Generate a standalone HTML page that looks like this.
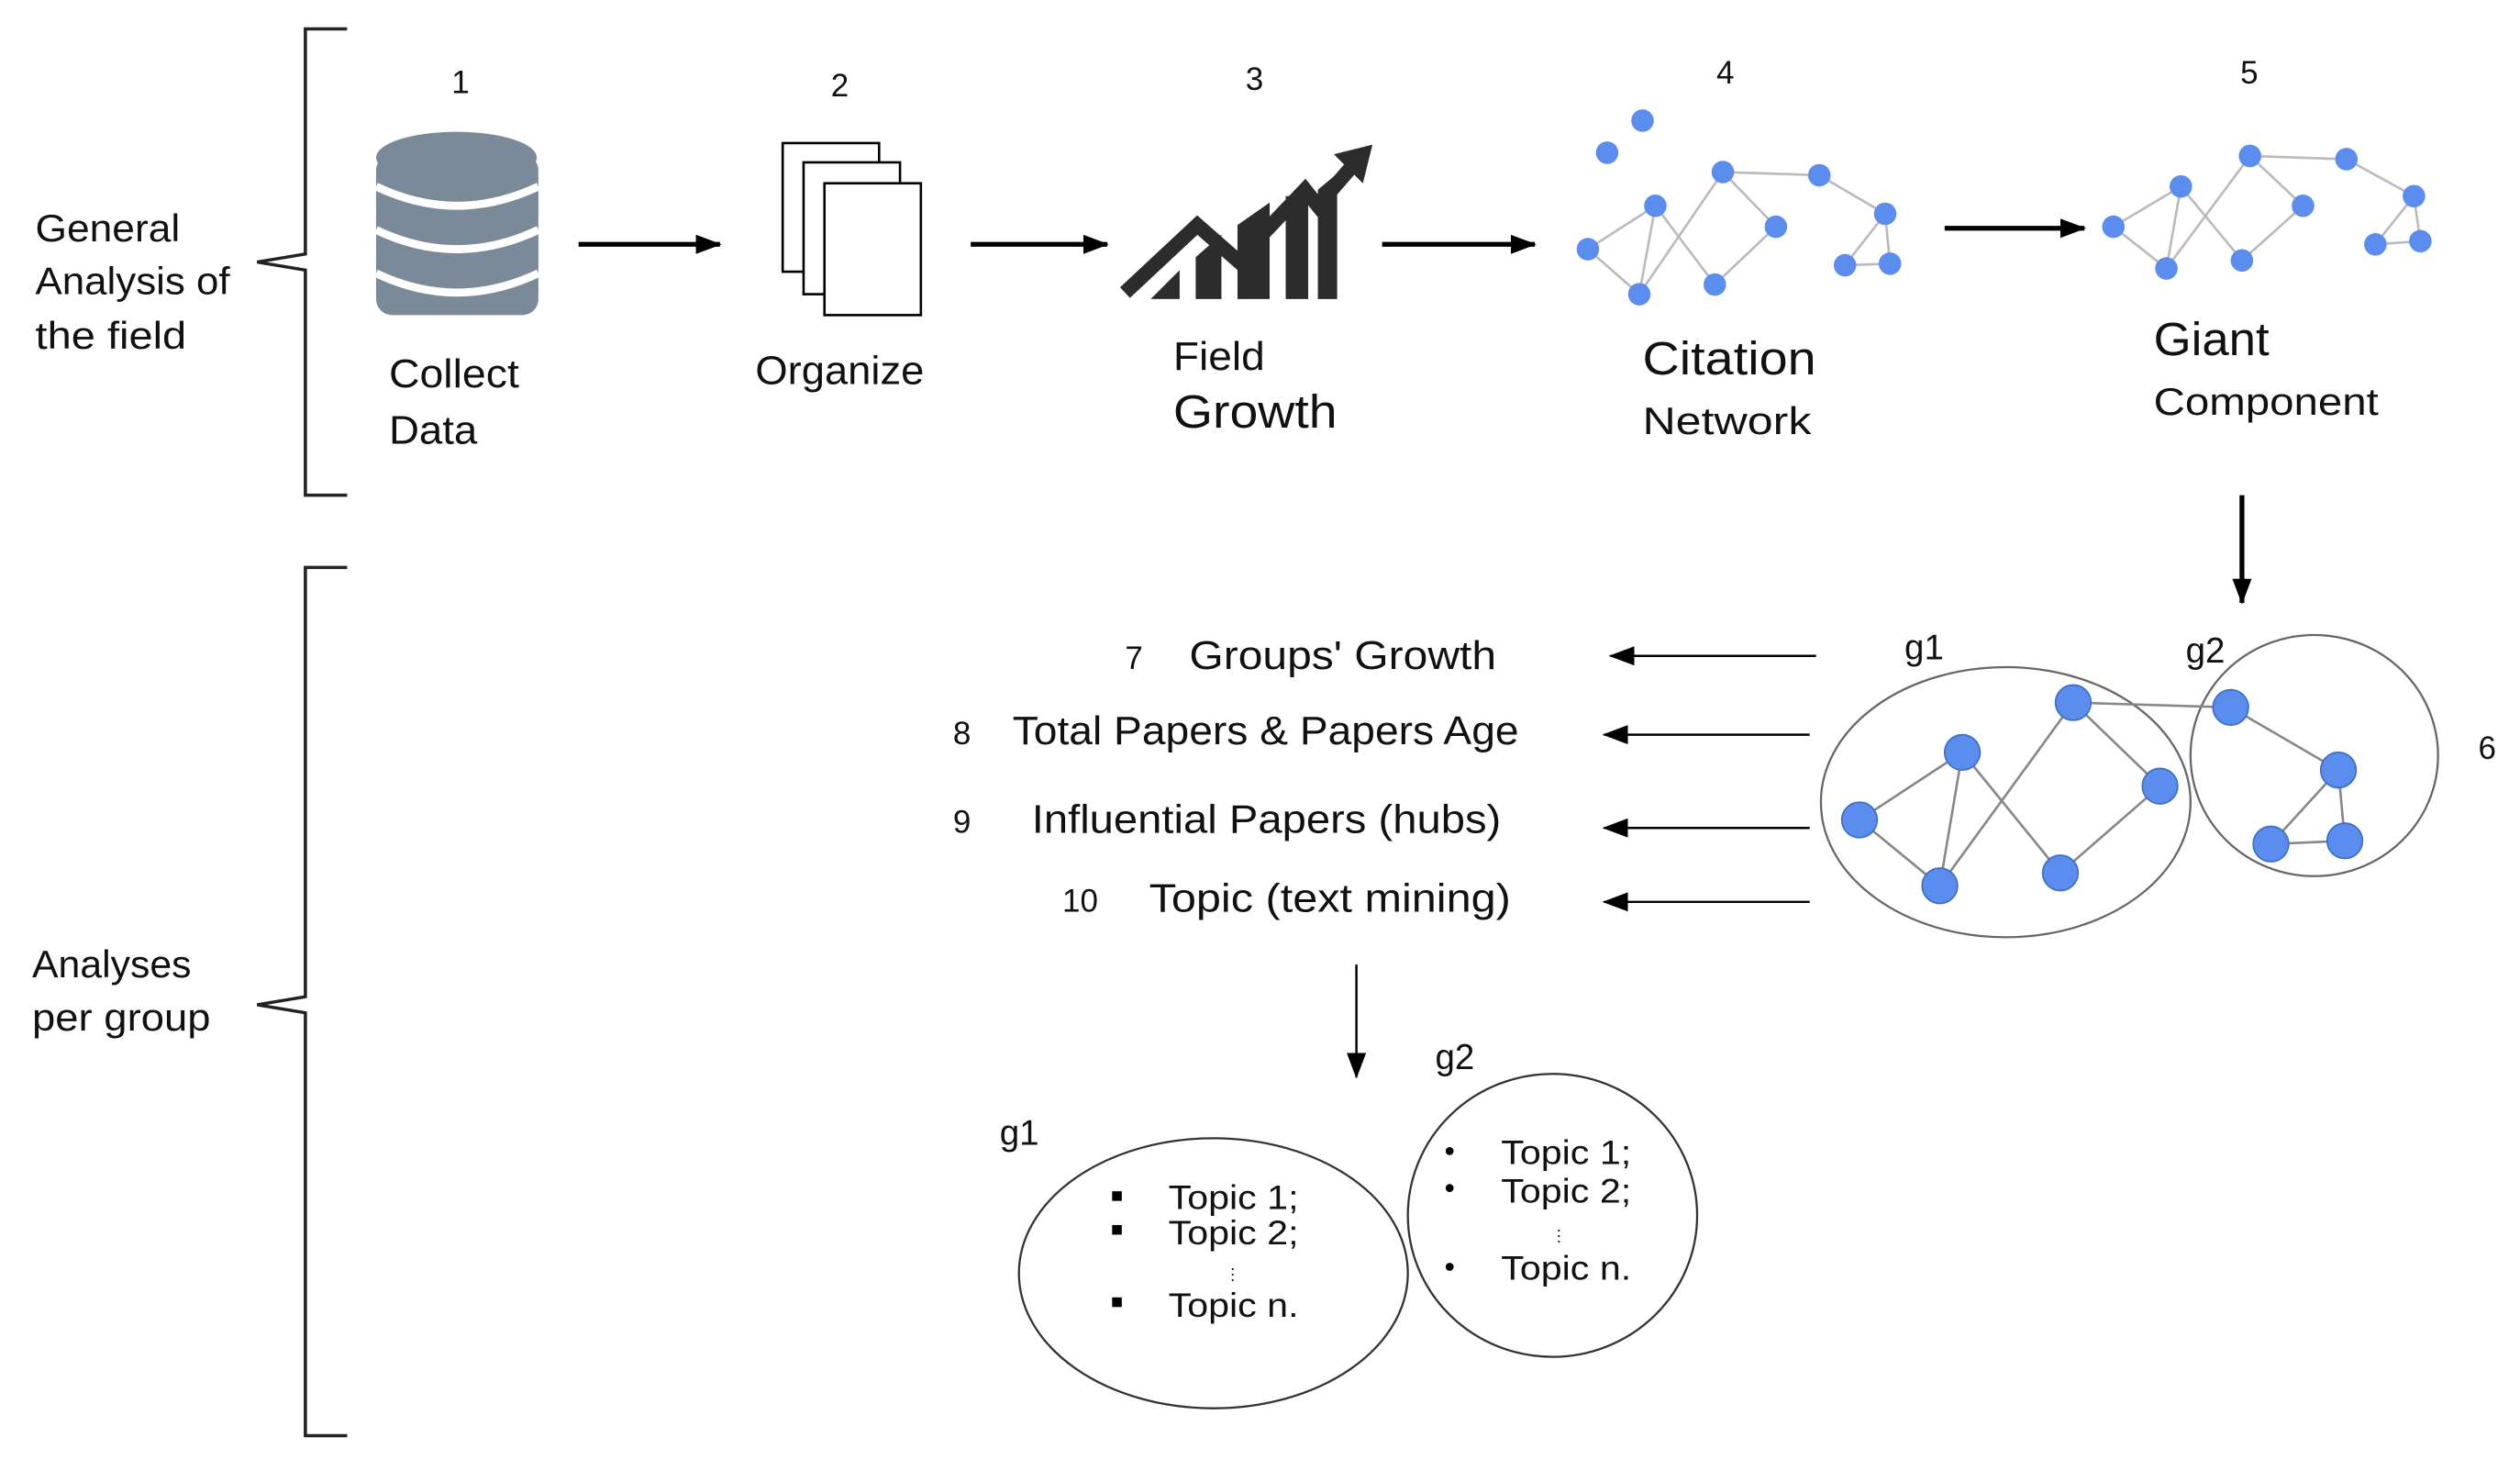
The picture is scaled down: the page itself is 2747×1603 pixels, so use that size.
<!DOCTYPE html>
<html><head><meta charset="utf-8"><style>
html,body{margin:0;padding:0;background:#fff;}
svg{display:block;}
text{font-family:"Liberation Sans",sans-serif;fill:#111;}
</style></head><body>
<svg width="2747" height="1603" viewBox="0 0 1568 915" xmlns="http://www.w3.org/2000/svg">
<defs>
<marker id="ah2" markerWidth="16" markerHeight="12" refX="15" refY="6" orient="auto" markerUnits="userSpaceOnUse"><path d="M0,0 L16,6 L0,12 z" fill="#000"/></marker>
</defs>
<path d="M216,18 L190,18 L190,158 L160,163 L190,168 L190,308 L216,308" fill="none" stroke="#222" stroke-width="2"/>
<path d="M216,353 L190,353 L190,620 L160,625 L190,630 L190,893 L216,893" fill="none" stroke="#222" stroke-width="2"/>
<text x="22" y="150" font-size="24" textLength="90" lengthAdjust="spacingAndGlyphs">General</text>
<text x="22" y="183" font-size="24" textLength="121" lengthAdjust="spacingAndGlyphs">Analysis of</text>
<text x="22" y="217" font-size="24" textLength="94" lengthAdjust="spacingAndGlyphs">the field</text>
<text x="20" y="608" font-size="24" textLength="99" lengthAdjust="spacingAndGlyphs">Analyses</text>
<text x="20" y="641" font-size="24" textLength="111" lengthAdjust="spacingAndGlyphs">per group</text>
<g font-size="20">
<text x="281" y="58">1</text><text x="517" y="60">2</text><text x="775" y="56">3</text><text x="1068" y="52">4</text><text x="1394" y="52">5</text><text x="1542" y="472">6</text>
</g>
<g fill="#7b8a98">
<rect x="234" y="96" width="101" height="100" rx="10"/>
<ellipse cx="284" cy="98" rx="50" ry="16"/>
</g>
<g fill="none" stroke="#fff" stroke-width="5">
<path d="M234,116 Q284,140 335,116"/><path d="M234,143 Q284,167 335,143"/><path d="M234,170 Q284,194 335,170"/>
</g>
<text x="242" y="241" font-size="25" textLength="81" lengthAdjust="spacingAndGlyphs">Collect</text>
<text x="242" y="276" font-size="25" textLength="55" lengthAdjust="spacingAndGlyphs">Data</text>
<g fill="#fff" stroke="#000" stroke-width="1.5">
<rect x="487" y="89" width="60" height="80"/><rect x="500" y="101" width="60" height="82"/><rect x="513" y="114" width="60" height="82"/>
</g>
<text x="470" y="239" font-size="25" textLength="105" lengthAdjust="spacingAndGlyphs">Organize</text>
<g fill="#2c2c2c">
<path d="M716,186 L734,168 L734,186 z"/>
<path d="M744,186 L744,160 L760,146 L760,186 z"/>
<path d="M770,186 L770,140 L790,126 L790,186 z"/>
<path d="M800,186 L800,122 L814,122 L814,186 z"/>
<path d="M820,186 L820,118 L832,108 L832,186 z"/>
</g>
<path d="M700,182 L745,140 L770,162 L812,118 L820,128 L846,98" fill="none" stroke="#2c2c2c" stroke-width="9"/>
<path d="M830,96 L854,90 L848,114 z" fill="#2c2c2c"/>
<text x="730" y="230" font-size="25" textLength="57" lengthAdjust="spacingAndGlyphs">Field</text>
<text x="730" y="266" font-size="29" textLength="102" lengthAdjust="spacingAndGlyphs">Growth</text>
<g stroke="#000" stroke-width="3">
<line x1="360" y1="152" x2="448" y2="152" marker-end="url(#ah2)"/>
<line x1="604" y1="152" x2="689" y2="152" marker-end="url(#ah2)"/>
<line x1="860" y1="152" x2="955" y2="152" marker-end="url(#ah2)"/>
<line x1="1210" y1="142" x2="1297" y2="142" marker-end="url(#ah2)"/>
<line x1="1395" y1="308" x2="1395" y2="375" marker-end="url(#ah2)"/>
</g>
<g stroke="#bbb" stroke-width="1.5">
<line x1="988" y1="155" x2="1030" y2="128"/><line x1="988" y1="155" x2="1020" y2="183"/><line x1="1030" y1="128" x2="1020" y2="183"/>
<line x1="1030" y1="128" x2="1067" y2="177"/><line x1="1072" y1="107" x2="1020" y2="183"/><line x1="1072" y1="107" x2="1105" y2="141"/>
<line x1="1105" y1="141" x2="1067" y2="177"/><line x1="1072" y1="107" x2="1132" y2="109"/><line x1="1132" y1="109" x2="1173" y2="133"/>
<line x1="1173" y1="133" x2="1148" y2="165"/><line x1="1148" y1="165" x2="1176" y2="164"/><line x1="1173" y1="133" x2="1176" y2="164"/>
</g>
<g fill="#5b8def">
<circle cx="1000" cy="95" r="7"/><circle cx="1022" cy="75" r="7"/><circle cx="1030" cy="128" r="7"/><circle cx="1072" cy="107" r="7"/><circle cx="1132" cy="109" r="7"/><circle cx="1105" cy="141" r="7"/><circle cx="1173" cy="133" r="7"/><circle cx="988" cy="155" r="7"/><circle cx="1020" cy="183" r="7"/><circle cx="1067" cy="177" r="7"/><circle cx="1148" cy="165" r="7"/><circle cx="1176" cy="164" r="7"/>
</g>
<text x="1022" y="233" font-size="29" textLength="108" lengthAdjust="spacingAndGlyphs">Citation</text>
<text x="1022" y="270" font-size="24" textLength="105" lengthAdjust="spacingAndGlyphs">Network</text>
<g stroke="#bbb" stroke-width="1.5">
<line x1="1315" y1="141" x2="1357" y2="116"/><line x1="1315" y1="141" x2="1348" y2="167"/><line x1="1357" y1="116" x2="1348" y2="167"/>
<line x1="1357" y1="116" x2="1395" y2="162"/><line x1="1400" y1="97" x2="1348" y2="167"/><line x1="1400" y1="97" x2="1433" y2="128"/>
<line x1="1433" y1="128" x2="1395" y2="162"/><line x1="1400" y1="97" x2="1460" y2="99"/><line x1="1460" y1="99" x2="1502" y2="122"/>
<line x1="1502" y1="122" x2="1478" y2="152"/><line x1="1478" y1="152" x2="1506" y2="150"/><line x1="1502" y1="122" x2="1506" y2="150"/>
</g>
<g fill="#5b8def">
<circle cx="1315" cy="141" r="7"/><circle cx="1357" cy="116" r="7"/><circle cx="1348" cy="167" r="7"/><circle cx="1400" cy="97" r="7"/><circle cx="1460" cy="99" r="7"/><circle cx="1433" cy="128" r="7"/><circle cx="1395" cy="162" r="7"/><circle cx="1502" cy="122" r="7"/><circle cx="1478" cy="152" r="7"/><circle cx="1506" cy="150" r="7"/>
</g>
<text x="1340" y="221" font-size="29" textLength="72" lengthAdjust="spacingAndGlyphs">Giant</text>
<text x="1340" y="258" font-size="24" textLength="140" lengthAdjust="spacingAndGlyphs">Component</text>
<g font-size="25">
<text x="700" y="416" font-size="20">7</text><text x="740" y="416" textLength="191" lengthAdjust="spacingAndGlyphs">Groups' Growth</text>
<text x="593" y="463" font-size="20">8</text><text x="630" y="463" textLength="315" lengthAdjust="spacingAndGlyphs">Total Papers &amp; Papers Age</text>
<text x="593" y="518" font-size="20">9</text><text x="642" y="518" textLength="292" lengthAdjust="spacingAndGlyphs">Influential Papers (hubs)</text>
<text x="661" y="567" font-size="20">10</text><text x="715" y="567" textLength="225" lengthAdjust="spacingAndGlyphs">Topic (text mining)</text>
</g>
<g stroke="#000" stroke-width="1.4">
<line x1="1130" y1="408" x2="1002" y2="408" marker-end="url(#ah2)"/>
<line x1="1126" y1="457" x2="998" y2="457" marker-end="url(#ah2)"/>
<line x1="1126" y1="515" x2="998" y2="515" marker-end="url(#ah2)"/>
<line x1="1126" y1="561" x2="998" y2="561" marker-end="url(#ah2)"/>
<line x1="844" y1="600" x2="844" y2="670" marker-end="url(#ah2)"/>
</g>
<ellipse cx="1248" cy="499" rx="115" ry="84" fill="none" stroke="#666" stroke-width="1.3"/>
<ellipse cx="1440" cy="470" rx="77" ry="75" fill="none" stroke="#666" stroke-width="1.3"/>
<text x="1185" y="410" font-size="22">g1</text><text x="1360" y="412" font-size="22">g2</text>
<g stroke="#888" stroke-width="1.5">
<line x1="1157" y1="510" x2="1221" y2="468"/><line x1="1157" y1="510" x2="1207" y2="551"/><line x1="1221" y1="468" x2="1207" y2="551"/>
<line x1="1221" y1="468" x2="1282" y2="543"/><line x1="1290" y1="437" x2="1207" y2="551"/><line x1="1290" y1="437" x2="1344" y2="489"/>
<line x1="1344" y1="489" x2="1282" y2="543"/><line x1="1290" y1="437" x2="1388" y2="440"/><line x1="1388" y1="440" x2="1455" y2="479"/>
<line x1="1455" y1="479" x2="1413" y2="525"/><line x1="1413" y1="525" x2="1459" y2="523"/><line x1="1455" y1="479" x2="1459" y2="523"/>
</g>
<g fill="#5b8def" stroke="#3f6fc4" stroke-width="1">
<circle cx="1157" cy="510" r="11"/><circle cx="1221" cy="468" r="11"/><circle cx="1290" cy="437" r="11"/><circle cx="1344" cy="489" r="11"/><circle cx="1207" cy="551" r="11"/><circle cx="1282" cy="543" r="11"/><circle cx="1388" cy="440" r="11"/><circle cx="1455" cy="479" r="11"/><circle cx="1413" cy="525" r="11"/><circle cx="1459" cy="523" r="11"/>
</g>
<ellipse cx="755" cy="792" rx="121" ry="84" fill="none" stroke="#333" stroke-width="1.3"/>
<ellipse cx="966" cy="756" rx="90" ry="88" fill="none" stroke="#333" stroke-width="1.3"/>
<text x="622" y="712" font-size="22">g1</text><text x="893" y="665" font-size="22">g2</text>
<g font-size="21">
<rect x="692" y="741" width="6" height="6" fill="#000"/><text x="727" y="752" textLength="81" lengthAdjust="spacingAndGlyphs">Topic 1;</text>
<rect x="692" y="762" width="6" height="6" fill="#000"/><text x="727" y="774" textLength="81" lengthAdjust="spacingAndGlyphs">Topic 2;</text>
<text x="762" y="796" font-size="10">⋮</text>
<rect x="692" y="807" width="6" height="6" fill="#000"/><text x="727" y="819" textLength="81" lengthAdjust="spacingAndGlyphs">Topic n.</text>
<circle cx="902" cy="716" r="2.5" fill="#000"/><text x="934" y="724" textLength="81" lengthAdjust="spacingAndGlyphs">Topic 1;</text>
<circle cx="902" cy="739" r="2.5" fill="#000"/><text x="934" y="748" textLength="81" lengthAdjust="spacingAndGlyphs">Topic 2;</text>
<text x="965" y="772" font-size="10">⋮</text>
<circle cx="902" cy="788" r="2.5" fill="#000"/><text x="934" y="796" textLength="81" lengthAdjust="spacingAndGlyphs">Topic n.</text>
</g>
</svg>
</body></html>
